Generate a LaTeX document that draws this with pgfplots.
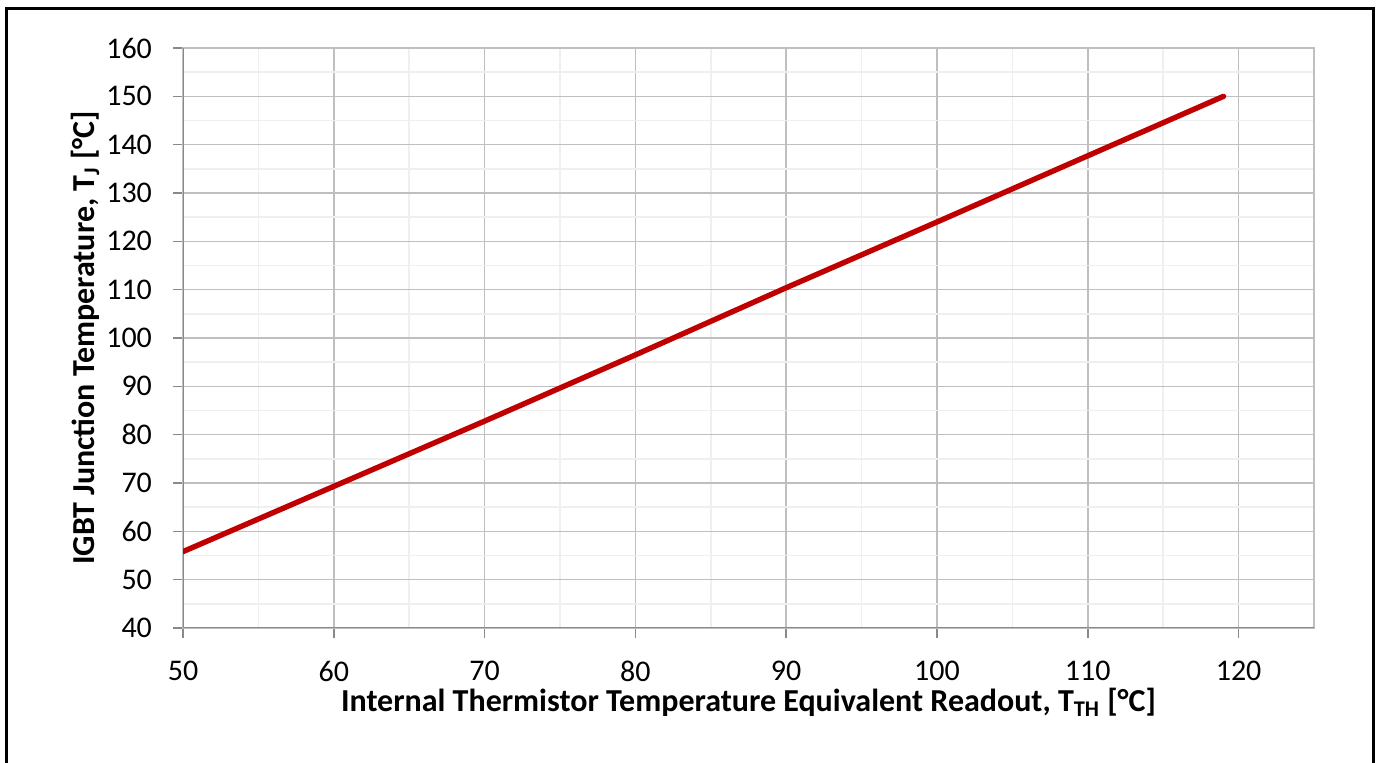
\documentclass[border=0pt]{standalone}
\usepackage{pgfplots}
\pgfplotsset{compat=1.18}
\usepackage{fontspec}
\setmainfont{Carlito}
\definecolor{majgrid}{HTML}{BFBFBF}
\definecolor{mingrid}{HTML}{EFEFEF}
\definecolor{axline}{HTML}{898989}
\definecolor{linered}{HTML}{C00000}
\begin{document}
\begin{tikzpicture}[x=1pt,y=1pt]
\useasboundingbox (0,0) rectangle (688.5,381.5);
\draw[line width=1.5pt] (3,-20) rectangle (686.5,377);
\begin{axis}[
  at={(91.5pt,67.5pt)}, anchor=south west,
  scale only axis, width=565.5pt, height=290pt,
  xmin=50, xmax=125, ymin=40, ymax=160,
  xtick={50,60,...,120}, ytick={40,50,...,160},
  minor xtick={55,65,...,125}, minor ytick={45,55,...,155},
  grid=both,
  major grid style={majgrid, line width=0.75pt},
  minor grid style={mingrid, line width=0.75pt},
  axis line style={majgrid, line width=0.75pt},
  tick align=outside,
  major tick length=5pt, minor tick length=0pt,
  xtick pos=bottom, ytick pos=left,
  tick style={axline, line width=0.75pt},
  /pgf/number format/assume math mode=true,
  ticklabel style={font=\fontsize{15}{17}\selectfont, text=black},
  yticklabel style={xshift=-7pt},
  xticklabel style={yshift=-8pt},
  xlabel={\textbf{Internal Thermistor Temperature Equivalent Readout, T\textsubscript{TH} [°C]}},
  ylabel={\textbf{IGBT Junction Temperature, T\textsubscript{J} [°C]}},
  every axis x label/.style={at={(rel axis cs:0.5,0)}, anchor=center, yshift=-37pt, font=\fontsize{16}{18}\selectfont},
  every axis y label/.style={at={(rel axis cs:0,0.5)}, rotate=90, anchor=center, yshift=49pt, font=\fontsize{16}{18}\selectfont},
]
\draw[axline, line width=0.75pt] (axis cs:50,40) -- (axis cs:50,160);
\draw[axline, line width=0.75pt] (axis cs:50,40) -- (axis cs:125,40);
\addplot[linered, line width=2.7pt, line cap=round, mark=none] coordinates {
(50,55.8) (60,69.3) (70,82.8) (80,96.5) (90,110.4) (100,124.0) (110,137.7) (119,150.0)
};
\end{axis}
\end{tikzpicture}
\end{document}
